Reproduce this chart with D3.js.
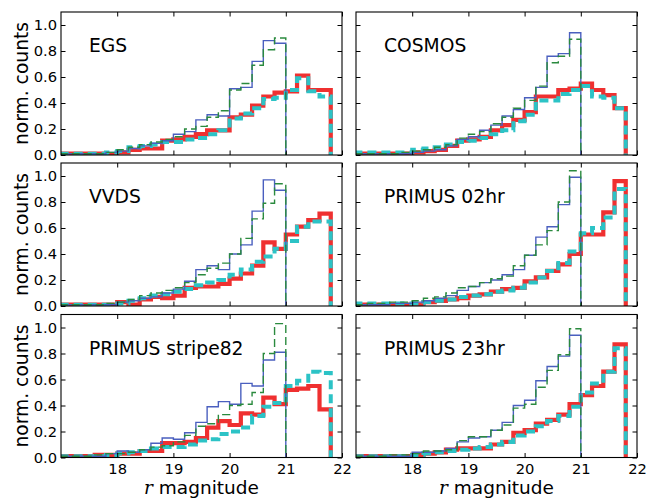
<!DOCTYPE html>
<html>
<head>
<meta charset="utf-8">
<script src="https://cdn.jsdelivr.net/npm/d3@7"></script>
<style>
  body { margin: 0; background: #fff; }
  svg text { font-family: "DejaVu Sans", sans-serif; fill: #000; }
</style>
</head>
<body>
<main></main>
<script>
const width = 646;
const height = 498;

// left edges of the 0.2 mag bins
const binEdges = [17.0, 17.2, 17.4, 17.6, 17.8, 18.0, 18.2, 18.4, 18.6, 18.8,
                  19.0, 19.2, 19.4, 19.6, 19.8, 20.0, 20.2, 20.4, 20.6, 20.8,
                  21.0, 21.2, 21.4, 21.6];
const binWidth = 0.2;

const xTicks = [18, 19, 20, 21, 22];
const yTicks = [0.0, 0.2, 0.4, 0.6, 0.8, 1.0];

const fieldNames = ['EGS', 'COSMOS', 'VVDS', 'PRIMUS 02hr', 'PRIMUS stripe82', 'PRIMUS 23hr'];

// thin blue solid (to r = 21)
const egsBlue      = [0.01,0.01,0.01,0.01,0.02, 0.03,0.05,0.07,0.09,0.11, 0.16,0.18,0.27,0.31,0.30, 0.51,0.52,0.72,0.88,0.86];
const cosmosBlue   = [0.01,0.01,0.01,0.01,0.01, 0.02,0.03,0.04,0.07,0.12, 0.14,0.19,0.23,0.30,0.35, 0.44,0.52,0.76,0.78,0.94];
const vvdsBlue     = [0.01,0.01,0.01,0.01,0.01, 0.03,0.04,0.06,0.07,0.10, 0.13,0.19,0.28,0.31,0.28, 0.40,0.47,0.73,0.97,0.89];
const p02Blue      = [0.01,0.01,0.01,0.02,0.02, 0.03,0.04,0.06,0.08,0.12, 0.15,0.18,0.20,0.24,0.28, 0.39,0.53,0.61,0.78,0.99];
const s82Blue      = [0.01,0.01,0.01,0.01,0.03, 0.05,0.04,0.06,0.11,0.15, 0.14,0.19,0.27,0.39,0.43, 0.41,0.57,0.55,0.75,0.81];
const p23Blue      = [0.01,0.01,0.01,0.01,0.01, 0.04,0.04,0.05,0.07,0.12, 0.15,0.16,0.21,0.27,0.40, 0.44,0.59,0.70,0.78,0.94];

// thin green dashed (to r = 21)
const egsGreen     = [0.01,0.01,0.01,0.01,0.02, 0.04,0.06,0.08,0.10,0.12, 0.14,0.20,0.22,0.29,0.34, 0.50,0.55,0.69,0.81,0.90];
const cosmosGreen  = [0.01,0.01,0.01,0.01,0.02, 0.03,0.04,0.06,0.08,0.13, 0.16,0.18,0.24,0.29,0.36, 0.42,0.53,0.71,0.76,0.89];
const vvdsGreen    = [0.01,0.01,0.01,0.01,0.02, 0.03,0.05,0.08,0.10,0.12, 0.14,0.18,0.24,0.29,0.33, 0.40,0.52,0.67,0.79,0.94];
const p02Green     = [0.01,0.02,0.02,0.03,0.03, 0.04,0.06,0.07,0.10,0.14, 0.15,0.18,0.21,0.23,0.31, 0.39,0.47,0.58,0.80,1.04];
const s82Green     = [0.01,0.01,0.01,0.02,0.03, 0.03,0.04,0.06,0.08,0.09, 0.12,0.17,0.24,0.26,0.33, 0.40,0.41,0.50,0.80,1.03];
const p23Green     = [0.01,0.01,0.01,0.02,0.02, 0.03,0.05,0.05,0.06,0.13, 0.16,0.16,0.21,0.25,0.38, 0.41,0.54,0.67,0.79,0.99];

// thick red solid (to r = 21.8)
const egsRed       = [0.01,0.01,0.01,0.01,0.00, 0.02,0.04,0.05,0.05,0.11, 0.12,0.14,0.16,0.19,0.19, 0.29,0.31,0.38,0.45,0.48, 0.49,0.61,0.50,0.50];
const cosmosRed    = [0.01,0.01,0.01,0.01,0.01, 0.02,0.03,0.04,0.07,0.11, 0.12,0.14,0.19,0.23,0.27, 0.33,0.45,0.45,0.50,0.51, 0.55,0.50,0.46,0.36];
const vvdsRed      = [0.01,0.01,0.01,0.01,0.01, 0.03,0.01,0.05,0.07,0.06, 0.08,0.14,0.15,0.15,0.17, 0.21,0.25,0.31,0.49,0.44, 0.55,0.61,0.66,0.71];
const p02Red       = [0.01,0.01,0.01,0.01,0.01, 0.01,0.03,0.04,0.05,0.06, 0.08,0.09,0.11,0.13,0.14, 0.19,0.22,0.27,0.32,0.40, 0.55,0.55,0.72,0.96];
const s82Red       = [0.01,0.01,0.01,0.02,0.02, 0.03,0.03,0.05,0.05,0.11, 0.11,0.12,0.15,0.23,0.28, 0.25,0.34,0.33,0.46,0.41, 0.52,0.53,0.55,0.37];
const p23Red       = [0.01,0.01,0.01,0.01,0.01, 0.02,0.03,0.04,0.06,0.07, 0.07,0.07,0.10,0.12,0.19, 0.21,0.26,0.29,0.33,0.41, 0.48,0.55,0.66,0.87];

// thick cyan dashed (to r = 21.8)
const egsCyan      = [0.01,0.01,0.01,0.01,0.02, 0.03,0.06,0.07,0.08,0.10, 0.10,0.12,0.13,0.16,0.19, 0.28,0.32,0.36,0.43,0.44, 0.50,0.59,0.49,0.45];
const cosmosCyan   = [0.02,0.02,0.02,0.02,0.02, 0.04,0.05,0.06,0.08,0.10, 0.11,0.13,0.16,0.19,0.26, 0.31,0.42,0.42,0.47,0.50, 0.53,0.45,0.44,0.36];
const vvdsCyan     = [0.01,0.01,0.01,0.01,0.01, 0.02,0.04,0.06,0.08,0.09, 0.11,0.13,0.16,0.18,0.20, 0.24,0.28,0.34,0.38,0.44, 0.50,0.61,0.65,0.65];
const p02Cyan      = [0.02,0.02,0.02,0.02,0.02, 0.02,0.03,0.04,0.05,0.07, 0.08,0.09,0.11,0.12,0.14, 0.18,0.22,0.27,0.33,0.42, 0.56,0.60,0.68,0.90];
const s82Cyan      = [0.01,0.01,0.01,0.01,0.02, 0.03,0.04,0.05,0.07,0.08, 0.08,0.10,0.13,0.14,0.18, 0.20,0.23,0.32,0.39,0.42, 0.55,0.59,0.66,0.65];
const p23Cyan      = [0.01,0.01,0.01,0.01,0.01, 0.02,0.03,0.04,0.05,0.06, 0.07,0.08,0.10,0.12,0.17, 0.20,0.24,0.28,0.32,0.39, 0.50,0.57,0.66,0.84];

const blueSets  = [egsBlue, cosmosBlue, vvdsBlue, p02Blue, s82Blue, p23Blue];
const greenSets = [egsGreen, cosmosGreen, vvdsGreen, p02Green, s82Green, p23Green];
const redSets   = [egsRed, cosmosRed, vvdsRed, p02Red, s82Red, p23Red];
const cyanSets  = [egsCyan, cosmosCyan, vvdsCyan, p02Cyan, s82Cyan, p23Cyan];

// panel layout
const colX = [61, 356];
const rowY = [12, 163, 314.5];
const panelW = 281;
const panelH = 143;

const createCanvas = () => {
    return d3.select('main')
             .append('svg')
             .attr('width', width)
             .attr('height', height);
};

// outline of a step histogram, dropping to zero at both ends
const stepPoints = (values) => {
    const pts = [[binEdges[0], 0]];
    values.forEach((v, i) => {
        pts.push([binEdges[i], v]);
        pts.push([binEdges[i] + binWidth, v]);
    });
    pts.push([binEdges[values.length - 1] + binWidth, 0]);
    return pts;
};

const drawPanel = (svg, k) => {
    const col = k % 2;
    const row = Math.floor(k / 2);
    const x0 = colX[col];
    const y0 = rowY[row];

    const xScale = d3.scaleLinear().domain([17, 22]).range([x0, x0 + panelW]);
    const yScale = d3.scaleLinear().domain([0, 1.1]).range([y0 + panelH, y0]);

    svg.append('clipPath')
       .attr('id', 'clip' + k)
       .append('rect')
       .attr('x', x0).attr('y', y0)
       .attr('width', panelW).attr('height', panelH);

    const line = d3.line()
                   .x((d) => xScale(d[0]))
                   .y((d) => yScale(d[1]));

    const g = svg.append('g').attr('clip-path', 'url(#clip' + k + ')');

    const styles = [
        {data: redSets[k],   color: '#ef3030', w: 4.2, dash: null},
        {data: cyanSets[k],  color: '#2cc3c6', w: 4.0, dash: '9,5'},
        {data: blueSets[k],  color: '#4a5fbf', w: 1.4, dash: null},
        {data: greenSets[k], color: '#2a8a3e', w: 1.4, dash: '8,4'}
    ];
    styles.forEach(s => {
        g.append('path')
         .attr('d', line(stepPoints(s.data)))
         .attr('fill', 'none')
         .attr('stroke', s.color)
         .attr('stroke-width', s.w)
         .attr('stroke-dasharray', s.dash);
    });

    // axes, ticks pointing inward on all four sides
    const showY = col === 0;
    const showX = row === 2;
    const fmt = d3.format('.1f');

    svg.append('g')
       .attr('transform', 'translate(' + x0 + ',0)')
       .call(d3.axisLeft(yScale).tickValues(yTicks).tickSize(-4.5).tickPadding(4)
               .tickFormat(showY ? fmt : () => ''));
    svg.append('g')
       .attr('transform', 'translate(' + (x0 + panelW) + ',0)')
       .call(d3.axisRight(yScale).tickValues(yTicks).tickSize(-4.5).tickFormat(() => ''));
    svg.append('g')
       .attr('transform', 'translate(0,' + (y0 + panelH) + ')')
       .call(d3.axisBottom(xScale).tickValues(xTicks).tickSize(-4.5).tickPadding(6)
               .tickFormat(showX ? d3.format('d') : () => ''));
    svg.append('g')
       .attr('transform', 'translate(0,' + y0 + ')')
       .call(d3.axisTop(xScale).tickValues(xTicks).tickSize(-4.5).tickFormat(() => ''));

    svg.append('rect')
       .attr('x', x0).attr('y', y0)
       .attr('width', panelW).attr('height', panelH)
       .attr('fill', 'none')
       .attr('stroke', '#000')
       .attr('stroke-width', 1.1);

    svg.append('text')
       .attr('x', x0 + 28)
       .attr('y', y0 + 40)
       .style('font-size', '18.7px')
       .text(fieldNames[k]);

    if (showY) {
        svg.append('text')
           .attr('transform', 'translate(28,' + (y0 + panelH / 2) + ') rotate(-90)')
           .attr('text-anchor', 'middle')
           .style('font-size', '18.7px')
           .text('norm. counts');
    }
    if (showX) {
        const t = svg.append('text')
                     .attr('x', x0 + panelW / 2)
                     .attr('y', 493.5)
                     .attr('text-anchor', 'middle')
                     .style('font-size', '18.5px');
        t.append('tspan')
         .style('font-family', '"DejaVu Serif", serif')
         .style('font-style', 'italic')
         .text('r');
        t.append('tspan').text(' magnitude');
    }
};

const driver = () => {
    const svg = createCanvas();
    fieldNames.forEach((name, k) => drawPanel(svg, k));
    svg.selectAll('.domain').remove();
    svg.selectAll('.tick line').attr('stroke', '#000').attr('stroke-width', 1);
    svg.selectAll('.tick text')
       .style('font-family', '"DejaVu Sans", sans-serif')
       .style('font-size', '14.7px');
};

driver();
</script>
</body>
</html>
